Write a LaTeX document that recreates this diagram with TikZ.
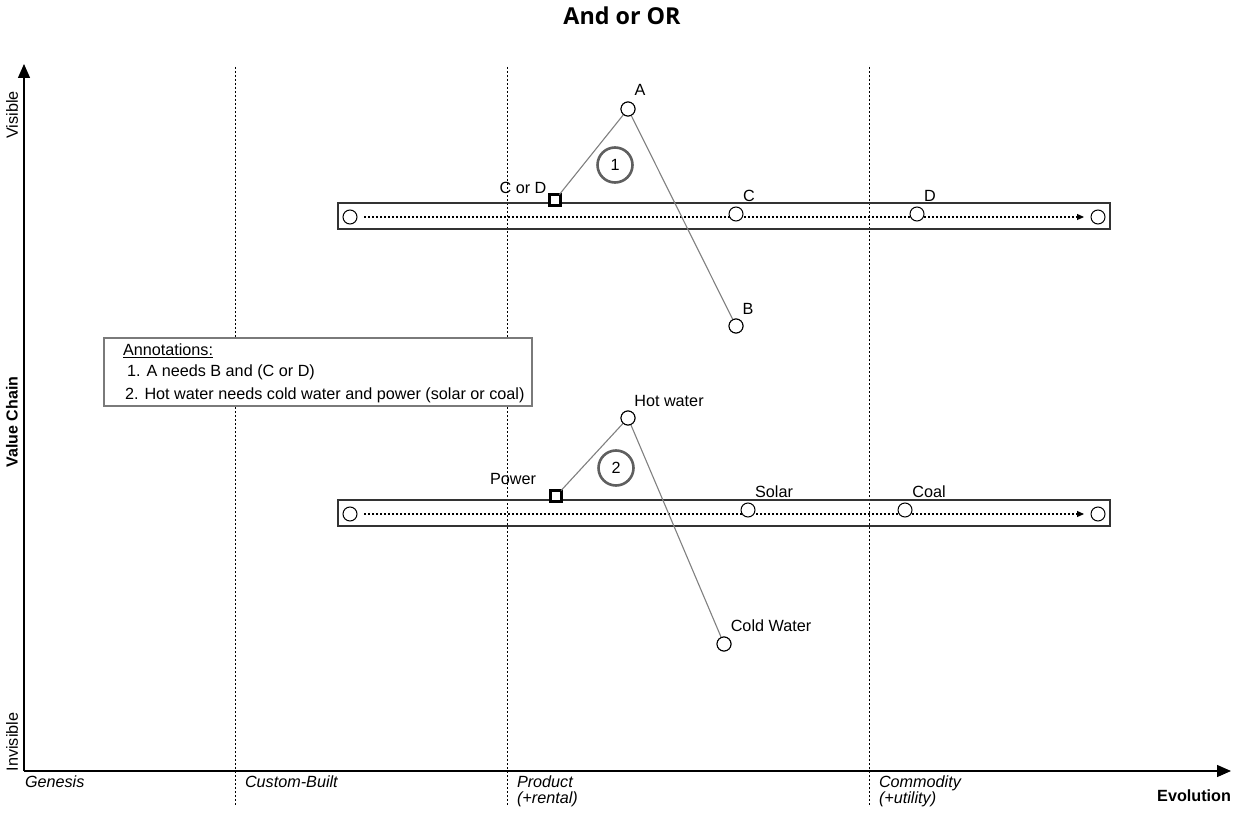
\documentclass[tikz,border=0pt]{standalone}
\usepackage{fontspec}
\setmainfont{Liberation Sans}
\newfontfamily\titlefont{Open Sans}
\usetikzlibrary{arrows.meta}
\definecolor{linkgray}{HTML}{808080}
\definecolor{ringgray}{HTML}{5F5F5F}
\definecolor{boxgray}{HTML}{7A7A7A}
\begin{document}
\begin{tikzpicture}[x=1pt,y=-1pt,
  every node/.style={font=\fontsize{16.2}{17}\selectfont, inner sep=0pt, outer sep=0pt},
  comp/.style={circle, draw=black, fill=white, line width=1pt, minimum size=14pt},
  orbox/.style={rectangle, draw=black, fill=white, line width=2.2pt, minimum size=11pt},
  bandbox/.style={rectangle, draw=black!80, line width=1.2pt, minimum width=772pt, minimum height=26pt},
  flow/.style={line width=1.1pt, dash pattern=on 2pt off 2pt, -{Triangle[length=7pt,width=6pt]}, shorten >=7pt, shorten <=7pt},
  link/.style={draw=linkgray, line width=1.1pt},
  ring/.style={circle, draw=ringgray, line width=2.6pt, minimum size=35pt},
  stage/.style={line width=1pt, dash pattern=on 2pt off 2pt},
  axis/.style={line width=1.3pt, -{Triangle[length=14pt,width=12pt]}},
  stagelbl/.style={anchor=north west, align=left, font=\fontsize{16.2}{16}\selectfont\itshape},
  sidelbl/.style={rotate=90},
]
\useasboundingbox (0,0) rectangle (1244,818);

% title
\node[font=\titlefont\bfseries\fontsize{23.3}{27}\selectfont] (title) at (622,16) {And or OR};

% evolution stage separators
\coordinate (s1top) at (235,67);  \coordinate (s1bot) at (235,805);
\coordinate (s2top) at (507,67);  \coordinate (s2bot) at (507,805);
\coordinate (s3top) at (869,67);  \coordinate (s3bot) at (869,805);
\draw[stage] (s1top) -- (s1bot);
\draw[stage] (s2top) -- (s2bot);
\draw[stage] (s3top) -- (s3bot);

% axes
\coordinate (origin) at (24,771);
\coordinate (ytip) at (24,64);
\coordinate (xtip) at (1231,771);
\draw[axis] (origin) -- (ytip);
\draw[axis] (origin) -- (xtip);

% axis labels
\node[sidelbl] (visible) at (12,115) {Visible};
\node[sidelbl] (invisible) at (12,742) {Invisible};
\node[sidelbl, font=\fontsize{16}{17}\selectfont\bfseries] (valuechain) at (12,422) {Value Chain};
\node[font=\fontsize{16.2}{17}\selectfont\bfseries, anchor=east] (evolution) at (1231,796) {Evolution};
\node[stagelbl] (genesis) at (25,776) {Genesis};
\node[stagelbl] (custom) at (245,776) {Custom-Built};
\node[stagelbl] (product) at (517,776) {Product\\(+rental)};
\node[stagelbl] (commodity) at (879,776) {Commodity\\(+utility)};

% annotation box
\node[rectangle, draw=boxgray, line width=1.2pt, fill=white, anchor=north west,
      minimum width=428pt, minimum height=68pt] (notes) at (104,338) {};
\node[anchor=west] (notehead) at (123,351) {\underline{Annotations:}};
\node[anchor=west] (note1) at (127,372) {1. A needs B and (C or D)};
\node[anchor=west] (note2) at (125,395) {2. Hot water needs cold water and power (solar or coal)};

% first pipeline: C or D
\node[bandbox] (band1) at (724,216) {};
\node[comp] (p1start) at (350,217) {};
\node[comp] (p1end) at (1098,217) {};
\draw[flow] (p1start) -- (p1end);
\node[comp] (c) at (736,214) {};
\node[comp] (d) at (917,214) {};
\node[comp] (a) at (628,109) {};
\node[comp] (b) at (736,326) {};
\draw[link] (a) -- (b);
\node[orbox] (cord) at (555,200) {};
\draw[link] (a) -- (cord);
\node[comp] at (a) {};
\node[comp] at (b) {};
\node (alabel) at (640,90) {A};
\node (blabel) at (748,309) {B};
\node (clabel) at (749,196) {C};
\node (dlabel) at (930,196) {D};
\node (cordlabel) at (523,188) {C or D};
\node[ring] (ring1) at (615,165) {1};

% second pipeline: power
\node[bandbox] (band2) at (724,513) {};
\node[comp] (p2start) at (350,514) {};
\node[comp] (p2end) at (1098,514) {};
\draw[flow] (p2start) -- (p2end);
\node[comp] (solar) at (748,510) {};
\node[comp] (coal) at (905,510) {};
\node[comp] (hot) at (628,418) {};
\node[comp] (cold) at (724,644) {};
\draw[link] (hot) -- (cold);
\node[orbox] (power) at (556,496) {};
\draw[link] (hot) -- (power);
\node[comp] at (hot) {};
\node[comp] at (cold) {};
\node (hotlabel) at (669,401) {Hot water};
\node (powerlabel) at (513,479) {Power};
\node (solarlabel) at (774,492) {Solar};
\node (coallabel) at (929,492) {Coal};
\node (coldlabel) at (771,626) {Cold Water};
\node[ring] (ring2) at (616,468) {2};
\end{tikzpicture}
\end{document}
